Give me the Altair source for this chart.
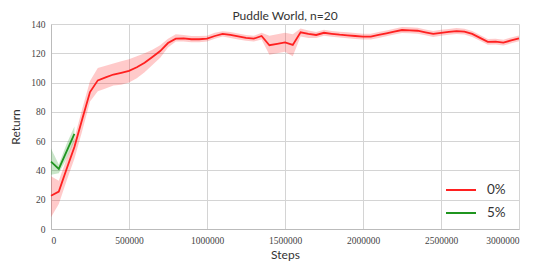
import altair as alt
import pandas as pd

steps_red = [0, 50000, 100000, 150000, 200000, 250000, 300000, 350000, 400000, 450000,
             500000, 550000, 600000, 650000, 700000, 750000, 800000, 850000, 900000, 950000,
             1000000, 1050000, 1100000, 1150000, 1200000, 1250000, 1300000, 1350000, 1400000, 1450000,
             1500000, 1550000, 1600000, 1650000, 1700000, 1750000, 1800000, 1850000, 1900000, 1950000,
             2000000, 2050000, 2100000, 2150000, 2200000, 2250000, 2300000, 2350000, 2400000, 2450000,
             2500000, 2550000, 2600000, 2650000, 2700000, 2750000, 2800000, 2850000, 2900000, 2950000,
             3000000]
mean_red = [22.7, 25.5, 41, 56, 75, 93.5, 101.5, 103.5, 105.5, 106.7,
            108, 110.5, 113.5, 117.5, 121.5, 127, 130, 130.2, 129.6, 129.6,
            130.0, 131.8, 133.3, 132.5, 131.5, 130.5, 130.0, 131.8, 125.5, 126.5,
            127.5, 125.7, 134.3, 133.2, 132.5, 134, 133.3, 132.7, 132.3, 131.8,
            131.4, 131.4, 132.5, 133.6, 134.8, 135.9, 135.7, 135.4, 134.3, 133.2,
            134, 134.6, 135.2, 134.8, 133.2, 130.5, 127.8, 128, 127.3, 128.8,
            130.2]
lo_red = [8, 17, 33, 48, 67, 87, 94, 96, 98, 98.5,
          100, 103, 107, 112, 117, 124, 128, 128, 127.5, 127.5,
          128, 130, 131.5, 130.5, 129.5, 128.5, 128, 129.5, 119, 120,
          121, 118, 131.5, 130.5, 130.5, 132, 131.3, 130.7, 130.3, 129.8,
          129.4, 129.4, 130.5, 131.6, 132.8, 133.9, 133.7, 133.4, 132.3, 131.2,
          132, 132.6, 133.2, 132.8, 131.2, 128.5, 125.8, 126, 125.3, 126.8,
          128.2]
hi_red = [36, 33, 48, 62, 82, 101, 110, 111.5, 113, 114.5,
          116, 118, 120, 122.5, 125.5, 130, 133, 132.5, 131.8, 131.8,
          132, 134, 135, 134.5, 133.5, 132.5, 132, 134, 132, 133,
          134, 133, 137, 135.5, 134.5, 136, 135.3, 134.7, 134.3, 133.8,
          133.4, 133.4, 134.5, 135.6, 136.8, 137.9, 137.7, 137.4, 136.3, 135.2,
          136, 136.6, 137.2, 136.8, 135.2, 132.5, 129.8, 130, 129.3, 130.8,
          132.2]

steps_green = [0, 50000, 100000, 150000]
mean_green = [46, 41, 53, 65]
lo_green = [37, 38, 48, 60]
hi_green = [55, 44, 58, 70]

series_names = ["0%", "5%"]
colors = ["#ff2020", "#1f951f"]
x_ticks = [0, 500000, 1000000, 1500000, 2000000, 2500000, 3000000]
y_ticks = [0, 20, 40, 60, 80, 100, 120, 140]

rows = []
for s, m, l, h in zip(steps_red, mean_red, lo_red, hi_red):
    rows.append({"series": "0%", "step": s, "mean": m, "lo": l, "hi": h})
for s, m, l, h in zip(steps_green, mean_green, lo_green, hi_green):
    rows.append({"series": "5%", "step": s, "mean": m, "lo": l, "hi": h})
df = pd.DataFrame(rows)

color_scale = alt.Scale(domain=series_names, range=colors)
x_axis = alt.Axis(values=x_ticks, format="d", labelOverlap=False)
y_axis = alt.Axis(values=y_ticks, labelOverlap=False)
x_scale = alt.Scale(domain=[0, 3000000], nice=False)
y_scale = alt.Scale(domain=[0, 140], nice=False)

band = alt.Chart(df).mark_area(opacity=0.24).encode(
    x=alt.X("step:Q", title="Steps", scale=x_scale, axis=x_axis),
    y=alt.Y("lo:Q", title="Return", scale=y_scale, axis=y_axis),
    y2="hi:Q",
    color=alt.Color("series:N", scale=color_scale, legend=None),
    detail="series:N",
)

line = alt.Chart(df).mark_line(strokeWidth=1.8).encode(
    x=alt.X("step:Q", title="Steps", scale=x_scale, axis=x_axis),
    y=alt.Y("mean:Q", title="Return", scale=y_scale, axis=y_axis),
    color=alt.Color("series:N", scale=color_scale,
                    legend=alt.Legend(title=None, orient="none", legendX=394, legendY=150,
                                      symbolType="stroke", symbolSize=900, symbolStrokeWidth=2,
                                      labelFont="Lato", labelFontSize=13.5, labelColor="#333",
                                      labelOffset=10, rowPadding=-8)),
)

chart = alt.layer(band, line).resolve_legend(color="independent").properties(
    width=468, height=205,
    title=alt.Title("Puddle World, n=20", font="Lato", fontSize=12, fontWeight="normal",
                    color="#333", offset=-4),
    autosize=alt.AutoSizeParams(type="none"),
    padding={"left": 43, "top": 16, "right": 12, "bottom": 34},
).configure_view(stroke=None).configure_axis(
    grid=True, gridColor="#d4d4d4", gridWidth=1,
    domainColor="#bbbbbb", ticks=False, labelOverlap=False,
    labelFont="Liberation Serif", labelFontSize=9.5, labelColor="#444", labelPadding=6,
    titleFont="Lato", titleFontSize=12, titleFontWeight="normal", titleColor="#333",
).configure_axisY(titlePadding=8).configure_axisX(titlePadding=5)

chart.save("out.html", embed_options={"renderer": "svg", "actions": False})
